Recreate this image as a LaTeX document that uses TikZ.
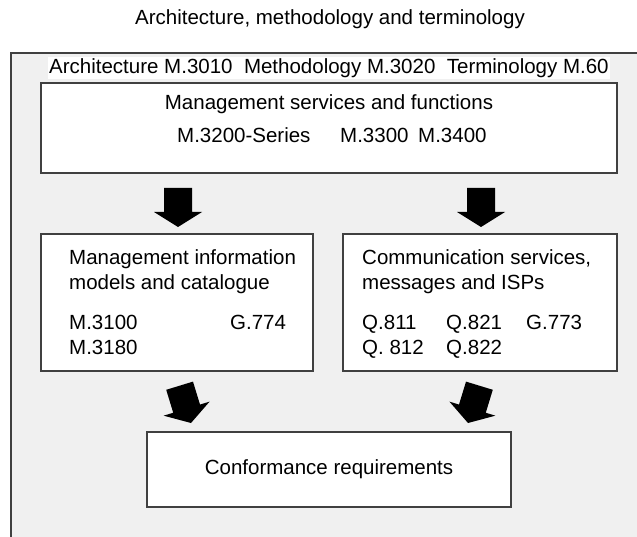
\documentclass[tikz,border=0pt]{standalone}
\usepackage{fontspec}
\setmainfont{Liberation Sans}
\definecolor{panelgrey}{HTML}{F0F0F0}
\definecolor{edgegrey}{HTML}{404040}
\tikzset{
  txt/.style={inner sep=0pt, font=\fontsize{20.5}{25}\selectfont},
  panel/.style={draw=edgegrey, line width=1.8pt, fill=panelgrey},
  docbox/.style={draw=edgegrey, line width=1.4pt, fill=white, inner sep=0pt},
  banner/.style={txt, fill=white, inner xsep=1pt, text height=17pt, text depth=5pt},
  blockarrow/.pic={
    \fill[black] (-14,-39) -- (14,-39) -- (14,-15) -- (24,-15) -- (0,0)
      -- (-24,-15) -- (-14,-15) -- cycle;
  }
}
\begin{document}
\begin{tikzpicture}[x=1pt,y=-1pt]
\useasboundingbox (0,0) rectangle (637,537);

% heading above the panel
\node[txt, anchor=base] (title) at (330,25) {Architecture, methodology and terminology};

% grey panel, running off the right and bottom edges
\begin{scope}
  \clip (0,0) rectangle (637,537);
  \draw[panel] (11,53) rectangle (660,560);
\end{scope}

\node[banner, anchor=base west] (refs) at (48,74)
  {Architecture M.3010\ \ Methodology M.3020\ \ Terminology M.60};

% boxes
\node[docbox, minimum width=576pt, minimum height=90pt] (services) at (329,128) {};
\node[docbox, minimum width=272pt, minimum height=137pt] (models) at (177,302.5) {};
\node[docbox, minimum width=274pt, minimum height=137pt] (comms) at (480,302.5) {};
\node[docbox, minimum width=364pt, minimum height=75pt] (conf) at (329,469.5) {};

% box texts
\node[txt, anchor=base] (svc1) at (329,110) {Management services and functions};
\node[txt, anchor=base west] (svc2) at (177,143) {M.3200-Series};
\node[txt, anchor=base west] (svc3) at (340,143) {M.3300};
\node[txt, anchor=base west] (svc4) at (418,143) {M.3400};

\node[txt, anchor=base west] (mod1) at (69,265) {Management information};
\node[txt, anchor=base west] (mod2) at (69,290) {models and catalogue};
\node[txt, anchor=base west] (mod3) at (69,329) {M.3100};
\node[txt, anchor=base west] (mod4) at (230,329) {G.774};
\node[txt, anchor=base west] (mod5) at (69,354) {M.3180};

\node[txt, anchor=base west] (com1) at (362,265) {Communication services,};
\node[txt, anchor=base west] (com2) at (362,290) {messages and ISPs};
\node[txt, anchor=base west] (com3) at (362,329) {Q.811};
\node[txt, anchor=base west] (com4) at (446,329) {Q.821};
\node[txt, anchor=base west] (com5) at (526,329) {G.773};
\node[txt, anchor=base west] (com6) at (362,354) {Q. 812};
\node[txt, anchor=base west] (com7) at (446,354) {Q.822};

\node[txt, anchor=base] (conftxt) at (329,474) {Conformance requirements};

% block arrows
\pic at (178,227) {blockarrow};
\pic at (481,227) {blockarrow};
\pic[rotate=17] at (191,423) {blockarrow};
\pic[rotate=-17] at (468,423) {blockarrow};
\end{tikzpicture}
\end{document}
